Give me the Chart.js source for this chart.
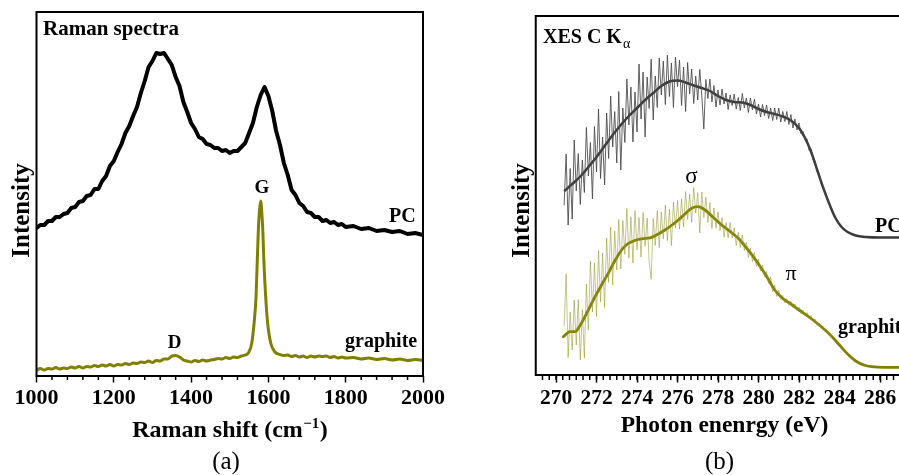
<!DOCTYPE html>
<html><head><meta charset="utf-8">
<script src="https://cdn.jsdelivr.net/npm/chart.js@4.4.1/dist/chart.umd.min.js"></script>
<style>
html,body{margin:0;padding:0;background:#fff;overflow:hidden;width:899px;height:475px;position:relative;}
#ca{position:absolute;left:0;top:0;}
#cb{position:absolute;left:500px;top:0;}
</style></head><body>
<canvas id="ca" width="450" height="475"></canvas>
<canvas id="cb" width="420" height="475"></canvas>
<script>
// ---------------- Panel (a): Raman spectra ----------------
const pcRamanX = [1000,1010,1020,1030,1040,1050,1060,1070,1080,1090,1100,1110,1120,1130,1140,1150,1160,1170,1180,1190,
  1200,1210,1220,1230,1240,1250,1260,1270,1280,1290,1300,1310,1320,1330,1340,1350,1360,1370,1380,1390,
  1400,1410,1420,1430,1440,1450,1460,1470,1480,1490,1500,1510,1520,1530,1540,1550,1560,1570,1580,1590,
  1600,1610,1620,1630,1640,1650,1660,1670,1680,1690,1700,1710,1720,1730,1740,1750,1760,1770,1780,1790,
  1800,1820,1840,1860,1880,1900,1920,1940,1960,1980,2000];
const pcRaman = [148,151,151,155,155,159,159,162,163,168,169,174,175,180,181,187,187,195,200,210,
  215,224,232,243,250,260,269,283,295,309,315,323,322,323,317,311,299,290,274,264,
  253,247,239,237,232,231,228,228,225,226,223,225,225,229,233,243,253,269,281,289,
  280,265,245,231,213,201,186,181,173,170,164,163,159,159,155,156,153,154,151,152,
  149,150,147,148,145,146,144,145,142,143,141];
const grRamanX = [1000,1010,1020,1030,1040,1050,1060,1070,1080,1090,1100,1110,1120,1130,1140,1150,1160,1170,1180,1190,
  1200,1210,1220,1230,1240,1250,1260,1270,1280,1290,1300,1310,1320,1330,1340,1350,1360,1370,1380,1390,
  1400,1410,1420,1430,1440,1450,1460,1470,1480,1490,1500,1510,1520,1530,1540,
  1548,1557,1563,1568,1571,1574,1577,1580,1583,1585.5,1588.5,1593,1598,1606,1617,1630,
  1640,1650,1660,1670,1680,1690,1700,1710,1720,1730,1740,1750,1760,1770,1780,1790,1800,
  1820,1840,1860,1880,1900,1920,1940,1960,1980,2000];
const grRaman = [6,7.5,6,7.5,7,8.5,7,8,7.5,9,8,9.5,8,9.5,9,10.5,9.5,11,10,11.5,
  10,11.5,11,12.5,11.5,13,12.5,14,13.5,15,13.5,15.5,15,17,17,20,20.5,19,16,15,
  14,15.5,14.5,16,15,16,16.5,17.5,17,18.5,17.5,19,18.5,20,21,
  23,33,53,79,113,146,166,175,163,146,113,79,53,33,24,21.5,
  20.5,21,19.5,20.5,19,20,18.5,20,19,20,19.5,20,18.5,19.5,18,19,18,
  18.5,17,18,16.5,17.5,16,17,15.5,16.5,15.5];
const ramanMajor = [1000,1200,1400,1600,1800,2000];
const ramanMinor = [1040,1080,1120,1160,1240,1280,1320,1360,1440,1480,1520,1560,1640,1680,1720,1760,1840,1880,1920,1960];

// ---------------- Panel (b): XES C K-alpha ----------------
const xesNoisyX = [270.4,270.5,270.6,270.7,270.8,270.9,271.0,271.1,271.2,271.3,
  271.4,271.5,271.6,271.7,271.8,271.9,272.0,272.1,272.2,272.3,
  272.4,272.5,272.6,272.7,272.8,272.9,273.0,273.1,273.2,273.3,
  273.4,273.5,273.6,273.7,273.8,273.9,274.0,274.1,274.2,274.3,
  274.4,274.5,274.6,274.7,274.8,274.9,275.0,275.1,275.2,275.3,
  275.4,275.5,275.6,275.7,275.8,275.9,276.0,276.1,276.2,276.3,
  276.4,276.5,276.6,276.7,276.8,276.9,277.0,277.1,277.2,277.3,
  277.4,277.5,277.6,277.7,277.8,277.9,278.0,278.1,278.2,278.3,
  278.4,278.5,278.6,278.7,278.8,278.9,279.0,279.1,279.2,279.3,
  279.4,279.5,279.6,279.7,279.8,279.9,280.0,280.1,280.2,280.3,
  280.4,280.5,280.6,280.7,280.8,280.9,281.0,281.1,281.2,281.3,
  281.4,281.5,281.6,281.7,281.8,281.9,282.0,282.1,282.2,282.3,
  282.4,282.5,282.6,282.7,282.8,282.9,283.0,283.1,283.2,283.3,
  283.4,283.5,283.6];
const pcXesNoisy = [170,221,150,206.5,156,235,184,221.5,170.5,215,
  182.5,247.5,199,232.5,176,248.5,203,266,196.5,238,
  190,262,216.5,279,228,263.5,212,283.5,205,267,
  232.5,296,250,288,233,283,243,311,256,303,
  238,298,266.5,316,255,299,267.5,317,280,314,
  270.5,320,278.5,312,267.5,318,288.5,315,269.5,308,
  263.5,312.5,281,306,271.5,299,275,305.5,279,246,
  295.5,276.5,296,273,289.5,268,285,270,286,271,
  282,265.5,280,269.5,281,266,277.5,264.5,281.5,267,
  277,262.5,277,265,276,261,271,258,270.5,259.5,
  270,256.5,267,254.5,267,255.5,267,253,263.5,253.5,
  263.5,250.5,260.5,247,256,245,252,241,243.5,235,
  236,224.5,226,215,214,203,201,191,189,180.5,
  177,170,166];
const grXesNoisy = [49,101,17.5,63,25,75,30,75.5,15,65.5,
  17,91,45,114,63,112,58.5,124.5,73,122,
  67.5,137,92.5,148,90,144,105,155.5,106,154.5,
  120.5,166.5,117,158,112,164.5,125,157.5,118,162.5,
  128.7,157,113.3,95.7,156.5,129.5,164.5,127.5,163,136,
  170,134.5,166,129.5,173,147,174.5,146,176,148,
  183.5,155.5,181,152.7,187.5,162,182.3,142,183,157.5,
  178,152.5,172.5,146.5,167,147,163,144.5,157.5,138,
  152.5,137,152.5,137,147,129.5,142.7,127.5,140,124.5,
  133,117.5,127,113.5,122.5,108.5,116,104,110,98,
  103.5,91.5,98,83.5,90,78.5,84.5,75.5,79.5,72,
  76.5,69.5,74,67.5,71,64.5,68,61.5,65,59,
  62.5,56,59.5,53,56,49.5,52,47,48.5,43.5,
  44,40,39];
const pcXesSmoothX = [270.44,270.8,271.2,271.6,272.0,272.4,272.8,273.2,273.6,274.0,274.4,274.8,275.2,275.6,276.0,276.4,276.8,277.2,277.6,278.0,
  278.4,278.8,279.2,279.6,280.0,280.4,280.8,281.2,281.6,282.0,282.3,282.6,282.9,283.2,283.5,283.8,284.1,284.4,284.8,285.3,286,287.5];
const pcXesSmooth = [184.5,191,198.5,208,218,229,240,250,259,267,275,282,289,293.5,294.5,292.5,289.5,287,284,279,
  275,273,272.5,270,266,263,261,258.5,254.5,247,237,223,205,187,171,157,148,143,139.5,138,137.5,137.5];
const grXesSmoothX = [270.36,270.69,270.94,271.2,271.43,271.93,272.25,272.58,272.9,273.24,273.5,273.74,274.05,274.4,274.73,
  275.05,275.38,275.7,276.04,276.37,276.7,277.03,277.36,277.77,278.18,278.6,279.0,279.37,279.74,280.1,
  280.45,280.8,281.2,281.6,282.0,282.5,283.0,283.5,284.0,284.4,284.8,285.2,285.6,286.2,287.5];
const grXesSmooth = [38.3,43.3,43.3,50,58.3,78.3,90,101.7,114,125,130.5,133.3,135.5,136.7,137.7,
  141,145,149.5,155,161,166.7,168.3,165,157.5,150,143.5,136.7,128,118.3,108,
  97,85,76.5,71,65,58,50,41,30,21,14,10,8.3,7.7,7.7];
const xesMajor = [270,272,274,276,278,280,282,284,286];

// ---------------- helpers ----------------
const FAM = '"Liberation Serif","Times New Roman",Times,serif';
const OLIVE = '#808000';
function pts(xs, ys){ return xs.map((x,i)=>({x:x, y:ys[i]})); }

function text(ctx, s, x, y, font, align){
  ctx.font = font; ctx.textAlign = align || 'left'; ctx.textBaseline = 'alphabetic';
  ctx.fillStyle = '#000'; ctx.fillText(s, x, y);
}
function vtext(ctx, s, x, y, font){
  ctx.save(); ctx.translate(x, y); ctx.rotate(-Math.PI/2);
  text(ctx, s, 0, 0, font, 'center'); ctx.restore();
}

function framePlugin(minor, minorLen, drawTexts){
  return {
    id: 'frameAndTexts',
    afterDraw(chart){
      const ctx = chart.ctx, a = chart.chartArea, xs = chart.scales.x;
      ctx.save();
      ctx.strokeStyle = '#000';
      ctx.lineWidth = 2;
      ctx.strokeRect(a.left, a.top, a.right - a.left, a.bottom - a.top);
      ctx.lineWidth = 1.5;
      ctx.beginPath();
      minor.forEach(v => {
        const px = xs.getPixelForValue(v);
        ctx.moveTo(px, a.bottom); ctx.lineTo(px, a.bottom + minorLen);
      });
      ctx.stroke();
      drawTexts(ctx);
      ctx.restore();
    }
  };
}

function baseOptions(xmin, xmax, ymax, major, padding, axisH, majorLen, tickSize){
  return {
    responsive: false,
    animation: false,
    events: [],
    layout: { padding: padding },
    plugins: { legend: { display: false }, tooltip: { enabled: false } },
    elements: { point: { radius: 0 }, line: { borderJoinStyle: 'round', borderCapStyle: 'round' } },
    scales: {
      x: {
        type: 'linear', min: xmin, max: xmax,
        afterBuildTicks: s => { s.ticks = major.map(v => ({ value: v })); },
        afterFit: s => { s.height = axisH; },
        grid: { display: true, drawOnChartArea: false, drawTicks: true, tickLength: majorLen, tickWidth: 1.5, tickColor: '#000' },
        border: { display: false },
        ticks: { color: '#000', padding: 3, maxRotation: 0, autoSkip: false,
          font: { family: FAM, size: tickSize, weight: 'bold' }, callback: v => String(v) }
      },
      y: { type: 'linear', min: 0, max: ymax, display: false }
    }
  };
}

// ---------------- Chart (a) ----------------
new Chart(document.getElementById('ca'), {
  type: 'line',
  data: { datasets: [
    { data: pts(pcRamanX, pcRaman), borderColor: '#000', borderWidth: 4, tension: 0 },
    { data: pts(grRamanX, grRaman), borderColor: OLIVE, borderWidth: 3, cubicInterpolationMode: 'monotone' }
  ]},
  options: baseOptions(1000, 2000, 364, ramanMajor, { left: 36.5, top: 12, right: 27, bottom: 0 }, 99, 6.5, 22),
  plugins: [framePlugin(ramanMinor, 4, ctx => {
    text(ctx, 'Raman spectra', 43, 35, 'bold 21px ' + FAM);
    text(ctx, 'PC', 389, 222, 'bold 20px ' + FAM);
    text(ctx, 'G', 262, 193, 'bold 19px ' + FAM, 'center');
    text(ctx, 'graphite', 345, 347, 'bold 20px ' + FAM);
    text(ctx, 'D', 174.5, 348, 'bold 19px ' + FAM, 'center');
    vtext(ctx, 'Intensity', 28.5, 210.5, 'bold 25px ' + FAM);
    // axis title with superscript
    const f1 = 'bold 24px ' + FAM, f2 = 'bold 15px ' + FAM;
    ctx.font = f1;
    const p1 = 'Raman shift (cm', p3 = ')';
    const w1 = ctx.measureText(p1).width, w3 = ctx.measureText(p3).width;
    ctx.font = f2; const p2 = '\u22121'; const w2 = ctx.measureText(p2).width;
    let x = 230 - (w1 + w2 + w3 + 1) / 2;
    text(ctx, p1, x, 437, f1); x += w1;
    text(ctx, p2, x + 0.5, 428, f2); x += w2 + 1;
    text(ctx, p3, x, 437, f1);
    text(ctx, '(a)', 226, 469, '25px ' + FAM, 'center');
  })]
});

// ---------------- Chart (b) ----------------
new Chart(document.getElementById('cb'), {
  type: 'line',
  data: { datasets: [
    { data: pts(xesNoisyX, pcXesNoisy), borderColor: 'rgba(70,70,70,0.85)', borderWidth: 1, tension: 0 },
    { data: pts(xesNoisyX, grXesNoisy), borderColor: 'rgba(150,150,40,0.55)', borderWidth: 1, tension: 0 },
    { data: pts(pcXesSmoothX, pcXesSmooth), borderColor: '#3a3a3a', borderWidth: 2.5, cubicInterpolationMode: 'monotone' },
    { data: pts(grXesSmoothX, grXesSmooth), borderColor: OLIVE, borderWidth: 2.8, cubicInterpolationMode: 'monotone' }
  ]},
  options: baseOptions(269, 287.5, 359, xesMajor, { left: 35.75, top: 16, right: 9.625, bottom: 0 }, 100, 7.5, 21.5),
  plugins: [framePlugin((() => { const m = []; for (let k = 1; k < 56; k++) m.push(269 + k / 3); return m; })(), 5, ctx => {
    text(ctx, 'XES C K', 43, 43, 'bold 20px ' + FAM);
    ctx.font = 'bold 20px ' + FAM;
    const wk = ctx.measureText('XES C K').width;
    text(ctx, '\u03b1', 43 + wk + 1, 48, '14px ' + FAM);
    text(ctx, '\u03c3', 191.5, 183, '23px ' + FAM, 'center');
    text(ctx, '\u03c0', 291, 280, '22px ' + FAM, 'center');
    text(ctx, 'PC', 375, 232, 'bold 20px ' + FAM);
    text(ctx, 'graphite', 338, 333, 'bold 20px ' + FAM);
    vtext(ctx, 'Intensity', 28.5, 210.5, 'bold 25px ' + FAM);
    text(ctx, 'Photon enenrgy (eV)', 224.5, 432, 'bold 23.5px ' + FAM, 'center');
    text(ctx, '(b)', 219.5, 469, '25px ' + FAM, 'center');
  })]
});
</script>
</body></html>
